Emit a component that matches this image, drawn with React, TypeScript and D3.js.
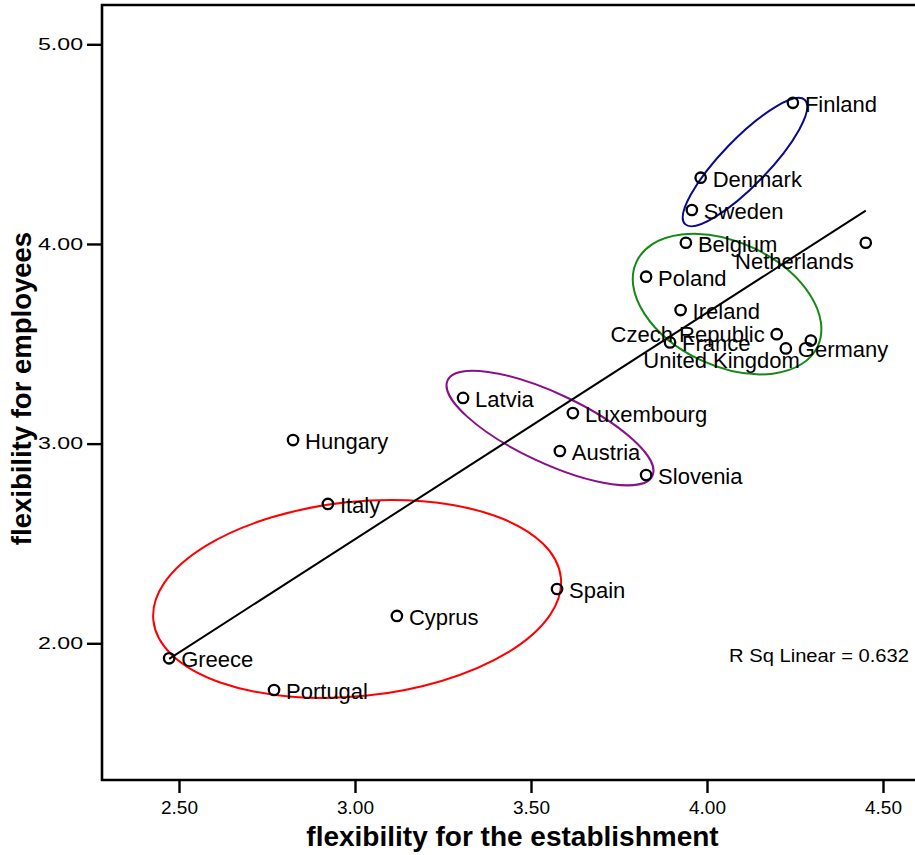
import { useEffect, useRef } from "react";
import * as d3 from "d3";

// country scores
const countries = [
  "Finland", "Denmark", "Sweden", "Belgium", "Netherlands", "Poland", "Ireland",
  "Czech Republic", "France", "Germany", "United Kingdom", "Latvia", "Luxembourg",
  "Austria", "Slovenia", "Hungary", "Italy", "Spain", "Cyprus", "Greece", "Portugal",
];
const establishment = [
  4.244, 3.982, 3.957, 3.94, 4.451, 3.827, 3.925,
  4.198, 3.895, 4.224, 4.295, 3.307, 3.619,
  3.582, 3.827, 2.824, 2.923, 3.574, 3.119, 2.472, 2.77,
];
const employees = [
  4.707, 4.332, 4.17, 4.006, 4.006, 3.836, 3.669,
  3.548, 3.507, 3.477, 3.516, 3.229, 3.153,
  2.963, 2.843, 3.018, 2.698, 2.272, 2.137, 1.925, 1.766,
];

const xTicks = [2.5, 3.0, 3.5, 4.0, 4.5];
const yTicks = [2.0, 3.0, 4.0, 5.0];
const xTitle = "flexibility for the establishment";
const yTitle = "flexibility for employees";
const fitLabel = "R Sq Linear = 0.632";

// hand drawn rings (centre in data units, half axes in x units, tilt in degrees)
const ringCx = [4.108, 4.057, 3.554, 3.006];
const ringCy = [4.41, 3.699, 3.078, 2.222];
const ringA = [0.245, 0.284, 0.321, 0.582];
const ringB = [0.066, 0.176, 0.099, 0.276];
const ringTilt = [-46, 25, 25, -6];
const ringColors = ["#0a0a8c", "#138a13", "#8a108a", "#ff0000"];

// labels that SPSS moved off the default right-hand spot
const moved: Record<string, [number, number, string]> = {
  Netherlands: [-12, 18, "end"],
  "Czech Republic": [-12, 0, "end"],
  "United Kingdom": [-11, 19, "end"],
};

const App = () => {
  const svgRef = useRef<SVGSVGElement>(null);

  useEffect(() => {
    const w = 915;
    const h = 855;
    const left = 102;
    const top = 5;
    const bottom = 780;
    const svg = d3.select(svgRef.current).attr("width", w).attr("height", h);
    svg.selectAll("*").remove();

    const x = d3.scaleLinear().domain([2.5, 4.5]).range([179, 883]);
    const y = d3.scaleLinear().domain([2, 5]).range([643.3, 44.3]);
    const font = "'Liberation Sans', Arial, sans-serif";

    // frame (open on the right, it runs off the picture)
    svg
      .append("path")
      .attr("d", `M${w},${top}H${left}V${bottom}H${w}`)
      .attr("fill", "none")
      .attr("stroke", "#000")
      .attr("stroke-width", 2.6);

    const xAxis = svg
      .append("g")
      .attr("transform", `translate(0,${bottom})`)
      .call(d3.axisBottom(x).tickValues(xTicks).tickFormat(d3.format(".2f")).tickSize(13).tickPadding(8));
    xAxis.select(".domain").remove();
    xAxis.selectAll("line").attr("stroke", "#000").attr("stroke-width", 2.4);
    xAxis.selectAll("text").attr("font-family", font).attr("font-size", 19).attr("fill", "#000");

    const yAxis = svg
      .append("g")
      .attr("transform", `translate(${left},0)`)
      .call(d3.axisLeft(y).tickValues(yTicks).tickFormat(d3.format(".2f")).tickSize(15).tickPadding(4));
    yAxis.select(".domain").remove();
    yAxis.selectAll("line").attr("stroke", "#000").attr("stroke-width", 2.4);
    yAxis
      .selectAll("text")
      .attr("font-family", font)
      .attr("font-size", 16)
      .attr("fill", "#000")
      .attr("textLength", 45)
      .attr("lengthAdjust", "spacingAndGlyphs");

    // rings
    const ux = x(3) - x(2);
    svg
      .append("g")
      .selectAll("ellipse")
      .data(ringCx)
      .join("ellipse")
      .attr("transform", (d, i) => `translate(${x(d)},${y(ringCy[i])}) rotate(${ringTilt[i]})`)
      .attr("rx", (d, i) => ringA[i] * ux)
      .attr("ry", (d, i) => ringB[i] * ux)
      .attr("fill", "none")
      .attr("stroke", (d, i) => ringColors[i])
      .attr("stroke-width", 2);

    // linear fit
    const n = establishment.length;
    const mx = d3.mean(establishment)!;
    const my = d3.mean(employees)!;
    let sxy = 0;
    let sxx = 0;
    for (let i = 0; i < n; i++) {
      sxy += (establishment[i] - mx) * (employees[i] - my);
      sxx += (establishment[i] - mx) ** 2;
    }
    const slope = sxy / sxx;
    const ends = d3.extent(establishment) as [number, number];
    const line = d3
      .line<number>()
      .x((d) => x(d))
      .y((d) => y(my + slope * (d - mx)));
    svg
      .append("path")
      .attr("d", line(ends))
      .attr("fill", "none")
      .attr("stroke", "#000")
      .attr("stroke-width", 2);

    // points
    const pts = svg.append("g");
    pts
      .selectAll("circle")
      .data(countries)
      .join("circle")
      .attr("cx", (d, i) => x(establishment[i]))
      .attr("cy", (d, i) => y(employees[i]))
      .attr("r", 5.2)
      .attr("fill", "none")
      .attr("stroke", "#000")
      .attr("stroke-width", 2.3);

    pts
      .selectAll("text")
      .data(countries)
      .join("text")
      .attr("x", (d, i) => x(establishment[i]) + (moved[d] ? moved[d][0] : 12))
      .attr("y", (d, i) => y(employees[i]) + (moved[d] ? moved[d][1] : 1))
      .attr("dy", "0.36em")
      .attr("text-anchor", (d) => (moved[d] ? moved[d][2] : "start"))
      .attr("font-family", font)
      .attr("font-size", 22)
      .attr("fill", "#000")
      .text((d) => d);

    svg
      .append("text")
      .attr("x", 909)
      .attr("y", y(2) + 12)
      .attr("dy", "0.36em")
      .attr("text-anchor", "end")
      .attr("font-family", font)
      .attr("font-size", 17.5)
      .attr("textLength", 180)
      .attr("lengthAdjust", "spacingAndGlyphs")
      .attr("fill", "#000")
      .text(fitLabel);

    // axis titles
    svg
      .append("text")
      .attr("x", (left + w) / 2 + 4)
      .attr("y", 846)
      .attr("text-anchor", "middle")
      .attr("font-family", font)
      .attr("font-weight", "bold")
      .attr("font-size", 28)
      .attr("fill", "#000")
      .text(xTitle);

    svg
      .append("text")
      .attr("transform", `translate(31,${(top + bottom) / 2 - 4}) rotate(-90)`)
      .attr("text-anchor", "middle")
      .attr("font-family", font)
      .attr("font-weight", "bold")
      .attr("font-size", 27.5)
      .attr("fill", "#000")
      .text(yTitle);
  }, []);

  return (
    <svg
      ref={svgRef}
      style={{ position: "absolute", left: 0, top: 0, background: "#fff" }}
    ></svg>
  );
};

export default App;
